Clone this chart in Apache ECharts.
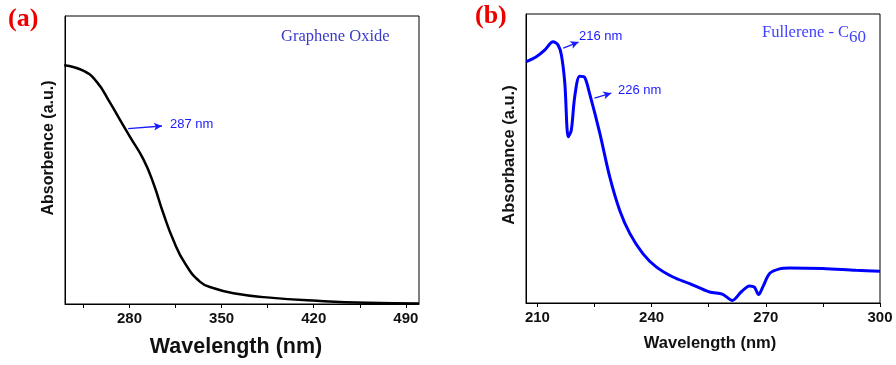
<!DOCTYPE html>
<html>
<head>
<meta charset="utf-8">
<script src="https://cdn.jsdelivr.net/npm/echarts@6/dist/echarts.min.js"></script>
<style>html,body{margin:0;padding:0;background:#fff;}#c{width:896px;height:365px;}</style>
</head>
<body>
<div id="c"></div>
<script>
// Panel (a): Graphene Oxide
const goWavelength = [230.4, 244.8, 255, 265.2, 272.8, 280.4, 290.5, 298.1, 305.7, 313.3, 322.2, 333.7, 343.8, 359, 384.4, 422.5, 460.5, 500];
const goAbsorbance = [0.829, 0.810, 0.772, 0.699, 0.639, 0.580, 0.503, 0.420, 0.315, 0.222, 0.141, 0.077, 0.055, 0.037, 0.023, 0.011, 0.004, 0.002];
const goTickLabels = [280, 350, 420, 490];
const goMinorTicks = [245, 280, 315, 350, 385, 420, 455, 490];

// Panel (b): Fullerene C60
const c60Wavelength = [207.1, 209.7, 211.9, 214.1, 215.4, 216.3, 217.2, 218.1, 218.9, 219.8, 221.1, 222.4, 223.7, 226.4, 229.0, 231.6, 234.3, 237.7, 241.2, 245.6, 250.0, 255.2, 258.7, 261.2, 263.5, 265.7, 267.0, 268.1, 269.2, 271.0, 273.6, 276.2, 285.0, 293.7, 300];
const c60Absorbance = [0.835, 0.852, 0.875, 0.904, 0.893, 0.858, 0.760, 0.575, 0.598, 0.714, 0.785, 0.781, 0.725, 0.587, 0.436, 0.321, 0.240, 0.171, 0.125, 0.090, 0.067, 0.038, 0.030, 0.009, 0.038, 0.059, 0.055, 0.029, 0.055, 0.102, 0.118, 0.121, 0.119, 0.113, 0.110];
const c60TickLabels = [210, 240, 270, 300];
const c60Ticks = [210, 225, 240, 255, 270, 285, 300];

const zip = (xs, ys) => xs.map((x, i) => [x, ys[i]]);

const chart = echarts.init(document.getElementById('c'));
const sans = 'Liberation Sans, Arial, sans-serif';
const serif = 'Liberation Serif, Times New Roman, serif';

function xAxis(gi, min, max, ticks, labels, fs) {
  return {
    type: 'value', gridIndex: gi, min: min, max: max,
    axisLine: {show: true, onZero: false, lineStyle: {color: '#000', width: 1}},
    axisTick: {show: true, inside: false, length: 4, customValues: ticks, lineStyle: {color: '#000'}},
    axisLabel: {show: true, customValues: labels, margin: 7, fontFamily: sans, fontWeight: 'bold', fontSize: fs, color: '#111'},
    splitLine: {show: false}
  };
}
function yAxis(gi) {
  return {
    type: 'value', gridIndex: gi, min: 0, max: 1,
    axisLine: {show: true, lineStyle: {color: '#000', width: 1}},
    axisTick: {show: false}, axisLabel: {show: false}, splitLine: {show: false}
  };
}
const arrowStyle = {
  silent: true, symbol: ['none', 'arrow'], symbolSize: [6, 8],
  lineStyle: {color: '#1a1aff', width: 1.3, type: 'solid'}, label: {show: false}
};

chart.setOption({
  animation: false,
  backgroundColor: '#fff',
  grid: [
    {left: 65, top: 16, width: 354, height: 288, show: true, borderColor: '#000', borderWidth: 1, containLabel: false},
    {left: 526, top: 14, width: 354, height: 289, show: true, borderColor: '#000', borderWidth: 1, containLabel: false}
  ],
  xAxis: [
    xAxis(0, 231, 500, goMinorTicks, goTickLabels, 15),
    xAxis(1, 207, 300, c60Ticks, c60TickLabels, 15)
  ],
  yAxis: [yAxis(0), yAxis(1)],
  series: [
    {
      type: 'line', xAxisIndex: 0, yAxisIndex: 0, data: zip(goWavelength, goAbsorbance),
      smooth: 0.5, showSymbol: false, lineStyle: {color: '#000', width: 2.5},
      markLine: Object.assign({}, arrowStyle, {data: [[{coord: [279.0, 0.609]}, {coord: [304.7, 0.618]}]]})
    },
    {
      type: 'line', xAxisIndex: 1, yAxisIndex: 1, data: zip(c60Wavelength, c60Absorbance),
      smooth: 0.3, showSymbol: false, lineStyle: {color: '#0000ff', width: 3},
      markLine: Object.assign({}, arrowStyle, {data: [
        [{coord: [216.8, 0.882]}, {coord: [220.8, 0.903]}],
        [{coord: [225.0, 0.709]}, {coord: [229.4, 0.726]}]
      ]})
    }
  ],
  graphic: [
    {type: 'text', left: 8, top: 6, style: {text: '(a)', font: 'bold 26px ' + serif, fill: '#ee0000'}},
    {type: 'text', left: 475, top: 3, style: {text: '(b)', font: 'bold 26px ' + serif, fill: '#ee0000'}},
    {type: 'text', x: 281, y: 37, style: {text: 'Graphene Oxide', font: '16.5px ' + serif, fill: '#3a3acc', verticalAlign: 'middle'}},
    {type: 'text', x: 762, y: 33, style: {
      text: '{a|Fullerene - C}{b|60}', verticalAlign: 'middle',
      rich: {a: {font: '16.5px ' + serif, fill: '#4040ff'},
             b: {font: '17px ' + serif, fill: '#4040ff', padding: [10, 0, 0, 0]}}
    }},
    {type: 'text', x: 170, y: 124, style: {text: '287 nm', font: '13px ' + sans, fill: '#1a1aff', verticalAlign: 'middle'}},
    {type: 'text', x: 579, y: 36, style: {text: '216 nm', font: '13px ' + sans, fill: '#1a1aff', verticalAlign: 'middle'}},
    {type: 'text', x: 618, y: 90, style: {text: '226 nm', font: '13px ' + sans, fill: '#1a1aff', verticalAlign: 'middle'}},
    {type: 'text', x: 49, y: 148, rotation: Math.PI / 2, style: {text: 'Absorbence (a.u.)', font: 'bold 16px ' + sans, fill: '#111', align: 'center', verticalAlign: 'middle'}},
    {type: 'text', x: 509, y: 155, rotation: Math.PI / 2, style: {text: 'Absorbance (a.u.)', font: 'bold 16.5px ' + sans, fill: '#111', align: 'center', verticalAlign: 'middle'}},
    {type: 'text', x: 236, y: 347, style: {text: 'Wavelength (nm)', font: 'bold 21.5px ' + sans, fill: '#111', align: 'center', verticalAlign: 'middle'}},
    {type: 'text', x: 710, y: 343, style: {text: 'Wavelength (nm)', font: 'bold 16.5px ' + sans, fill: '#111', align: 'center', verticalAlign: 'middle'}}
  ]
});
</script>
</body>
</html>
